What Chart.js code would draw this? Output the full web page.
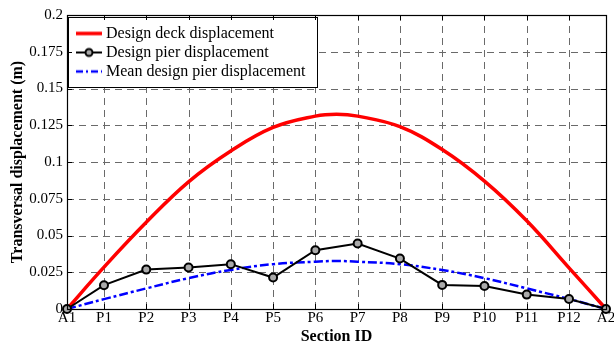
<!DOCTYPE html>
<html><head><meta charset="utf-8">
<script src="https://cdn.jsdelivr.net/npm/chart.js@4"></script>
<style>html,body{margin:0;padding:0;background:#fff}#wrap{width:614px;height:345px}</style>
</head><body><div id="wrap"><canvas id="c" width="614" height="345"></canvas></div>
<script>
// ---- data ----
const sections = ['A1','P1','P2','P3','P4','P5','P6','P7','P8','P9','P10','P11','P12','A2'];
const chainage = [0,35,75,115,155,195,235,275,315,355,395,435,475,510];
const pierDisp = [0,0.0162,0.0268,0.0282,0.0305,0.0214,0.0400,0.0446,0.0343,0.0164,0.0157,0.0098,0.0068,0];
const deckChainage = [0,35,75,115,155,195,235,255,275,315,355,395,435,475,510];
const deckDisp = [0,0.0285,0.0590,0.0865,0.1075,0.1235,0.1312,0.1325,0.1312,0.1240,0.1085,0.0870,0.0600,0.0280,0];
const meanChainage = [0,35,75,115,155,195,235,255,275,315,355,395,435,475,510];
const meanPierDisp = [0,0.0067,0.0140,0.0210,0.0266,0.0305,0.0322,0.0327,0.0322,0.0305,0.0265,0.0210,0.0140,0.0068,0];
const yTicks = [0,0.025,0.05,0.075,0.1,0.125,0.15,0.175,0.2];
const yTickLabels = ['0','0.025','0.05','0.075','0.1','0.125','0.15','0.175','0.2'];
const seriesNames = ['Design deck displacement','Design pier displacement','Mean design pier displacement'];
const xTitle = 'Section ID';
const yTitle = 'Transversal displacement (m)';

// ---- legend sample images ----
function sample(draw){const c=document.createElement('canvas');c.width=40;c.height=12;const g=c.getContext('2d');draw(g);return c;}
const sampDeck = sample(g=>{g.strokeStyle='#ff0000';g.lineWidth=3.5;g.beginPath();g.moveTo(12,6);g.lineTo(38,6);g.stroke();});
const sampPier = sample(g=>{g.strokeStyle='#000';g.lineWidth=2;g.beginPath();g.moveTo(12,6);g.lineTo(38,6);g.stroke();
  g.beginPath();g.arc(25,6,3.5,0,Math.PI*2);g.fillStyle='#aaa';g.fill();g.stroke();});
const sampMean = sample(g=>{g.strokeStyle='#0000ff';g.lineWidth=2.5;g.setLineDash([7,3,2,3]);g.beginPath();g.moveTo(12,6);g.lineTo(38,6);g.stroke();});
const samples = [sampDeck, sampPier, sampMean];

const serif = '"Liberation Serif", "Times New Roman", serif';
const legendFontSize = 16;

const framePlugin = {
  id: 'frame',
  afterInit(chart) {
    const lg = chart.legend;
    if (!lg) return;
    const orig = lg.draw;
    lg.draw = function(area) {
      const ctx = this.ctx, ca = chart.chartArea;
      ctx.save();
      ctx.font = legendFontSize + 'px ' + serif;
      const maxW = Math.max(...this.legendItems.map(it => ctx.measureText(it.text).width));
      const bx = ca.left + 1.5, by = ca.top + 2.5;
      const textX = ca.left + 3 + 28 + legendFontSize / 2;
      const bw = textX + maxW + 12 - bx, bh = 70;
      ctx.fillStyle = '#fff'; ctx.fillRect(bx, by, bw, bh);
      ctx.strokeStyle = '#000'; ctx.lineWidth = 1; ctx.strokeRect(bx, by, bw, bh);
      ctx.restore();
      const t = this.top, l = this.left;
      this.top = ca.top + 7.5; this.left = ca.left;
      orig.call(this, area);
      this.top = t; this.left = l;
    };
  },
  beforeDraw(chart) {
    // dashed grid (drawn under legend and data)
    const ctx = chart.ctx, ca = chart.chartArea, xs = chart.scales.x, ys = chart.scales.y;
    ctx.save();
    ctx.strokeStyle = '#6a6a6a'; ctx.lineWidth = 1; ctx.setLineDash([7,5]);
    ctx.beginPath();
    yTicks.forEach(v => { const y = Math.round(ys.getPixelForValue(v)) + 0.5;
      ctx.moveTo(ca.left, y); ctx.lineTo(ca.right, y); });
    ctx.stroke();
    ctx.beginPath();
    chainage.forEach(v => { const x = Math.round(xs.getPixelForValue(v)) + 0.5;
      ctx.moveTo(x, ca.bottom); ctx.lineTo(x, ca.top); });
    ctx.stroke();
    ctx.restore();
  },
  afterDraw(chart) {
    const ctx = chart.ctx, ca = chart.chartArea, xs = chart.scales.x, ys = chart.scales.y;
    ctx.save();
    ctx.strokeStyle = '#000'; ctx.lineWidth = 1;
    ctx.beginPath();
    yTicks.forEach(v => { const y = Math.round(ys.getPixelForValue(v)) + 0.5;
      ctx.moveTo(ca.left, y); ctx.lineTo(ca.left + 5, y);
      ctx.moveTo(ca.right - 5, y); ctx.lineTo(ca.right, y); });
    chainage.forEach(v => { const x = Math.round(xs.getPixelForValue(v)) + 0.5;
      ctx.moveTo(x, ca.bottom); ctx.lineTo(x, ca.bottom - 5);
      ctx.moveTo(x, ca.top); ctx.lineTo(x, ca.top + 5); });
    ctx.stroke();
    ctx.lineWidth = 1.2;
    ctx.strokeRect(Math.round(ca.left) + 0.5, Math.round(ca.top) + 0.5, Math.round(ca.right - ca.left), Math.round(ca.bottom - ca.top));
    ctx.restore();
  }
};

const gridOpts = { display: false, drawTicks: false, tickLength: 0 };
const borderOpts = { display: true, color: '#000', width: 1 };

new Chart(document.getElementById('c'), {
  type: 'line',
  data: {
    datasets: [
      { label: seriesNames[0], data: deckChainage.map((x,i)=>({x, y: deckDisp[i]})),
        borderColor: '#ff0000', borderWidth: 3.5, pointRadius: 0, tension: 0.4, clip: false, order: 2 },
      { label: seriesNames[1], data: chainage.map((x,i)=>({x, y: pierDisp[i]})),
        borderColor: '#000', borderWidth: 2, pointRadius: 4, pointBorderWidth: 2, pointBorderColor: '#000',
        pointBackgroundColor: '#aaa', tension: 0, clip: false, order: 0 },
      { label: seriesNames[2], data: meanChainage.map((x,i)=>({x, y: meanPierDisp[i]})),
        borderColor: '#0000ff', borderWidth: 2.5, borderDash: [9,3,3,3], pointRadius: 0,
        tension: 0.4, clip: false, order: 1 }
    ]
  },
  options: {
    responsive: false, animation: false, devicePixelRatio: 1,
    layout: { padding: { left: 0, top: 15, right: 8, bottom: 0 } },
    plugins: {
      tooltip: { enabled: false },
      legend: {
        position: 'chartArea', align: 'start',
        labels: {
          usePointStyle: true, pointStyleWidth: 28, padding: 3, color: '#000',
          font: { family: serif, size: legendFontSize },
          generateLabels: (chart) => chart.data.datasets.map((d,i) => ({
            text: d.label, pointStyle: samples[i], datasetIndex: i, hidden: false, lineWidth: 0,
            fillStyle: 'rgba(0,0,0,0)', strokeStyle: 'rgba(0,0,0,0)', fontColor: '#000'
          }))
        }
      }
    },
    scales: {
      x: {
        type: 'linear', min: 0, max: 510,
        afterBuildTicks: s => { s.ticks = chainage.map(v => ({ value: v })); },
        afterFit: s => { s.height = 36; s.paddingLeft = 0; s.paddingRight = 0; },
        ticks: { autoSkip: false, maxRotation: 0, padding: 0, color: '#000', font: { family: serif, size: 15 },
          callback: v => sections[chainage.indexOf(v)] },
        grid: gridOpts, border: borderOpts,
        title: { display: true, text: xTitle, color: '#000', font: { family: serif, size: 16, weight: 'bold', lineHeight: 1 }, padding: { top: 0, bottom: 0 } }
      },
      y: {
        type: 'linear', min: 0, max: 0.2,
        afterBuildTicks: s => { s.ticks = yTicks.map(v => ({ value: v })); },
        afterFit: s => { s.width = 67; },
        ticks: { padding: 4, color: '#000', font: { family: serif, size: 15 },
          callback: v => yTickLabels[yTicks.indexOf(v)] },
        grid: gridOpts, border: borderOpts,
        title: { display: true, text: yTitle, color: '#000', font: { family: serif, size: 16, weight: 'bold', lineHeight: 1 }, padding: { top: 9.5, bottom: 0 } }
      }
    }
  },
  plugins: [framePlugin]
});
</script></body></html>
